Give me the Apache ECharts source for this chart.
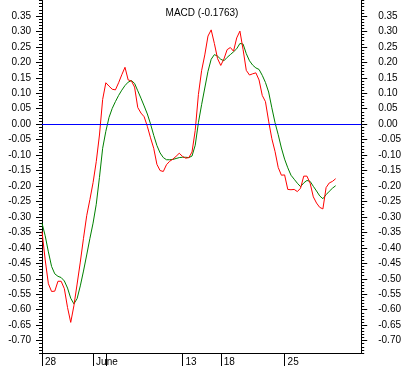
<!DOCTYPE html>
<html><head><meta charset="utf-8">
<script src="https://cdn.jsdelivr.net/npm/echarts@6/dist/echarts.min.js"></script>
<style>html,body{margin:0;padding:0;background:#fff}#c{width:404px;height:367px}</style>
</head><body><div id="c"></div>
<script>
// quarter-day bar slots along the x axis
const categories = Array.from({length: 101}, (_, i) => 'b' + i);

const macd = [-0.347,-0.439,-0.516,-0.541,-0.540,-0.508,-0.508,-0.532,-0.593,-0.641,
  -0.587,-0.517,-0.446,-0.369,-0.296,-0.244,-0.189,-0.121,-0.035,0.080,
  0.134,0.123,0.113,0.111,0.134,0.160,0.184,0.143,0.140,0.120,
  0.054,0.036,0.024,-0.007,-0.044,-0.078,-0.130,-0.150,-0.153,-0.131,
  -0.120,-0.113,-0.104,-0.094,-0.104,-0.110,-0.108,-0.090,-0.020,0.096,
  0.173,0.224,0.285,0.305,0.261,0.212,0.190,0.211,0.241,0.248,
  0.236,0.279,0.301,0.241,0.174,0.159,0.163,0.166,0.143,0.093,
  0.073,0.010,-0.047,-0.088,-0.140,-0.165,-0.164,-0.211,-0.212,-0.211,
  -0.218,-0.207,-0.168,-0.168,-0.191,-0.235,-0.255,-0.269,-0.274,-0.205,
  -0.190,-0.185,-0.1763];

const signal = [-0.320,-0.361,-0.413,-0.460,-0.484,-0.492,-0.496,-0.507,-0.530,-0.563,
  -0.581,-0.564,-0.523,-0.475,-0.423,-0.370,-0.320,-0.259,-0.172,-0.078,
  -0.023,0.022,0.051,0.073,0.093,0.110,0.125,0.136,0.141,0.132,
  0.108,0.084,0.059,0.033,0.001,-0.036,-0.069,-0.093,-0.108,-0.115,
  -0.115,-0.114,-0.111,-0.108,-0.107,-0.107,-0.108,-0.103,-0.068,0.005,
  0.063,0.117,0.171,0.210,0.225,0.220,0.210,0.205,0.216,0.225,
  0.234,0.244,0.261,0.259,0.228,0.205,0.191,0.182,0.177,0.158,
  0.135,0.104,0.053,0.005,-0.034,-0.077,-0.113,-0.141,-0.165,-0.178,
  -0.191,-0.202,-0.190,-0.182,-0.185,-0.201,-0.216,-0.232,-0.241,-0.228,
  -0.217,-0.207,-0.199];

const xTickIndex = [0, 16, 20, 44, 56, 76];
const xTickLabels = ['28', 'June', '', '13', '18', '25'];

const yTicks = [-0.70,-0.65,-0.60,-0.55,-0.50,-0.45,-0.40,-0.35,-0.30,-0.25,-0.20,-0.15,
  -0.10,-0.05,0.00,0.05,0.10,0.15,0.20,0.25,0.30,0.35];

const title = 'MACD (-0.1763)';
const zeroLine = 0;

const FONT = '"Liberation Sans", Arial, sans-serif';
const Y_MIN = -0.74, Y_MAX = 0.40;

function minorAxis(pos) {
  return {
    type: 'value', position: pos, min: Y_MIN, max: Y_MAX, interval: 0.01,
    axisLine: {show: true, onZero: false, lineStyle: {color: '#000', width: 1}},
    axisTick: {show: true, length: 3, lineStyle: {color: '#000'}},
    axisLabel: {show: false},
    splitLine: {show: false}
  };
}
function majorAxis(pos, margin, align) {
  return {
    type: 'value', position: pos, min: Y_MIN, max: Y_MAX,
    axisLine: {show: false, onZero: false},
    axisTick: {show: true, length: 6, customValues: yTicks, lineStyle: {color: '#000'}},
    axisLabel: {show: true, customValues: yTicks, margin: margin, align: align,
      formatter: v => v.toFixed(2), fontSize: 10, color: '#000', fontFamily: FONT},
    splitLine: {show: false}
  };
}

const chart = echarts.init(document.getElementById('c'), null, {renderer: 'canvas'});
chart.setOption({
  animation: false,
  backgroundColor: '#fff',
  title: {text: title, left: 'center', top: 3,
    textStyle: {fontSize: 10, fontWeight: 'normal', color: '#000', fontFamily: FONT}},
  grid: {left: 42, right: 41, top: 0.5, bottom: 13.5, containLabel: false},
  xAxis: {
    type: 'category', data: categories, boundaryGap: false,
    axisLine: {show: true, onZero: false, lineStyle: {color: '#000', width: 1}},
    axisTick: {show: true, length: 13, interval: (i) => xTickIndex.includes(i),
      lineStyle: {color: '#000'}},
    axisLabel: {show: true, interval: (i) => xTickIndex.includes(i),
      formatter: (v, i) => { const k = xTickIndex.indexOf(i); return k >= 0 ? xTickLabels[k] : ''; },
      align: 'left', padding: [0, 0, 0, 3], margin: 4,
      fontSize: 10, color: '#000', fontFamily: FONT},
    splitLine: {show: false}
  },
  yAxis: [minorAxis('left'), majorAxis('left', 11, 'right'),
          minorAxis('right'), majorAxis('right', 17, 'left')],
  series: [
    {type: 'line', name: 'Signal', data: signal, yAxisIndex: 0, symbol: 'none',
      lineStyle: {color: '#008000', width: 1}, itemStyle: {color: '#008000'}, z: 2,
      markLine: {silent: true, symbol: ['none', 'none'], label: {show: false},
        lineStyle: {color: '#0000ff', type: 'solid', width: 1},
        data: [{yAxis: zeroLine}]}},
    {type: 'line', name: 'MACD', data: macd, yAxisIndex: 0, symbol: 'none',
      lineStyle: {color: '#ff0000', width: 1}, itemStyle: {color: '#ff0000'}, z: 3}
  ]
});
</script></body></html>
